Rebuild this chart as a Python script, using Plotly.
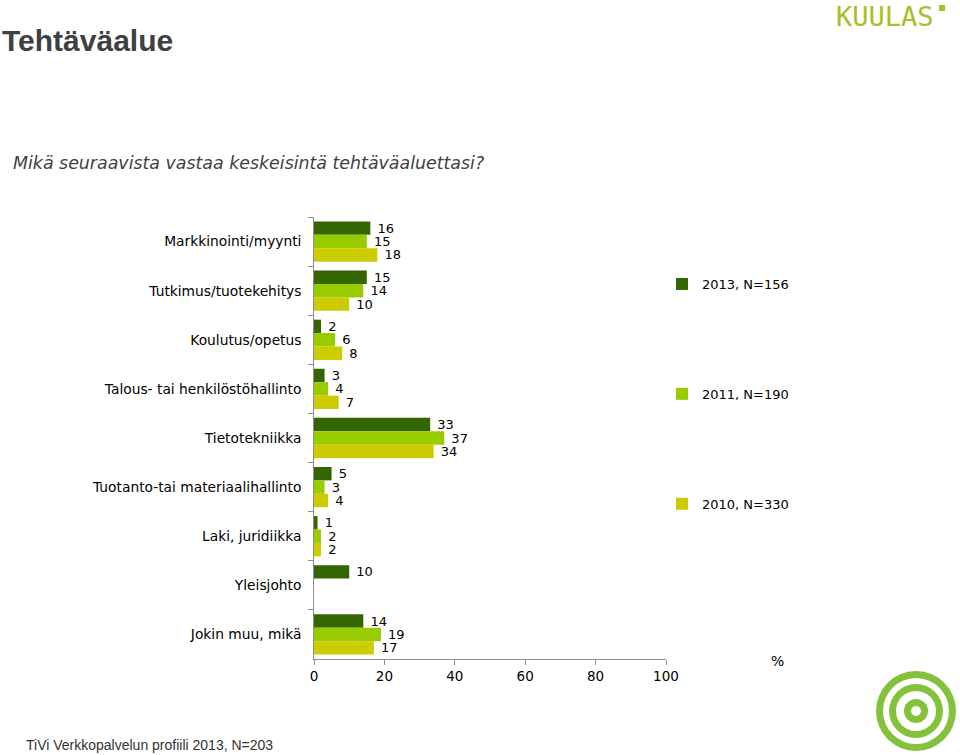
import plotly.graph_objects as go

categories = [
    "Markkinointi/myynti",
    "Tutkimus/tuotekehitys",
    "Koulutus/opetus",
    "Talous- tai henkilöstöhallinto",
    "Tietotekniikka",
    "Tuotanto-tai materiaalihallinto",
    "Laki, juridiikka",
    "Yleisjohto",
    "Jokin muu, mikä",
]
values_2013 = [16, 15, 2, 3, 33, 5, 1, 10, 14]
values_2011 = [15, 14, 6, 4, 37, 3, 2, None, 19]
values_2010 = [18, 10, 8, 7, 34, 4, 2, None, 17]
series_names = ["2013, N=156", "2011, N=190", "2010, N=330"]
series_colors = ["#336600", "#99cc00", "#cccc00"]
x_ticks = [0, 20, 40, 60, 80, 100]

W, H = 960, 755
L, R, T, B = 314, 666, 217, 659

def px(x):
    return (x - L) / (R - L)

def py(y):
    return (B - y) / (B - T)

FONT = "Verdana, DejaVu Sans, sans-serif"

fig = go.Figure()
for i, (name, vals, col) in enumerate(zip(series_names, [values_2013, values_2011, values_2010], series_colors)):
    fig.add_trace(go.Bar(
        y=categories, x=vals, orientation="h", name=name,
        marker=dict(color=col, line=dict(width=0)),
        text=[("" if v is None else " " + str(v)) for v in vals],
        textposition="outside", cliponaxis=False, constraintext="none",
        textfont=dict(family=FONT, size=13, color="#000000"),
        legendgroup=f"g{i}", hoverinfo="x+y+name",
    ))

fig.update_layout(
    width=W, height=H, autosize=False,
    margin=dict(l=L, r=W - R, t=T, b=H - B, pad=0),
    paper_bgcolor="white", plot_bgcolor="white",
    barmode="group", bargap=0.18, bargroupgap=0,
    font=dict(family=FONT, size=13, color="#000000"),
    showlegend=True,
    legend=dict(
        x=px(662), y=py(269), xanchor="left", yanchor="top",
        font=dict(family=FONT, size=13, color="#000000"),
        tracegroupgap=90, traceorder="grouped", bgcolor="rgba(0,0,0,0)",
        itemwidth=30,
    ),
    xaxis=dict(
        range=[0, 100], tickvals=x_ticks, ticktext=[str(t) for t in x_ticks],
        showgrid=False, zeroline=False, showline=True, linecolor="#8c8c9c", linewidth=1,
        ticks="outside", ticklen=5, tickcolor="#8c8c9c",
        tickfont=dict(family=FONT, size=13.5, color="#000000"),
    ),
    yaxis=dict(
        type="category", autorange="reversed", categoryorder="array", categoryarray=categories,
        showgrid=False, zeroline=False, showline=True, linecolor="#8c8c9c", linewidth=1,
        ticks="outside", ticklen=5, tickcolor="#8c8c9c", tickson="boundaries",
        tickfont=dict(family=FONT, size=13.8, color="#000000"), ticksuffix="  ",
    ),
)

ann = []
ann.append(dict(text="<b>Tehtäväalue</b>", x=px(0), y=py(40), xref="paper", yref="paper",
                xanchor="left", yanchor="middle", showarrow=False,
                font=dict(family="Liberation Sans, Arial, sans-serif", size=30, color="#404040")))
ann.append(dict(text="<i>Mikä seuraavista vastaa keskeisintä tehtäväaluettasi?</i>", x=px(11), y=py(163),
                xref="paper", yref="paper", xanchor="left", yanchor="middle", showarrow=False,
                font=dict(family=FONT, size=17.4, color="#404040")))
ann.append(dict(text="TiVi Verkkopalvelun profiili 2013, N=203", x=px(24), y=py(745),
                xref="paper", yref="paper", xanchor="left", yanchor="middle", showarrow=False,
                font=dict(family="Liberation Sans, Arial, sans-serif", size=14, color="#333333")))
ann.append(dict(text="%", x=px(777), y=py(661), xref="paper", yref="paper",
                xanchor="center", yanchor="middle", showarrow=False,
                font=dict(family=FONT, size=14, color="#000000")))
ann.append(dict(text="KUULAS", x=px(834), y=py(16), xref="paper", yref="paper",
                xanchor="left", yanchor="middle", showarrow=False,
                font=dict(family="DejaVu Sans Mono, monospace", size=27, color="#a3c12a")))
fig.update_layout(annotations=ann)

shapes = []
shapes.append(dict(type="rect", xref="paper", yref="paper", x0=px(939), x1=px(945), y0=py(11), y1=py(5),
                   fillcolor="#a3c12a", line=dict(width=0)))
cx, cy = 916, 711
for r, c in [(40, "#84c23b"), (33, "white"), (27, "#84c23b"), (20, "white"), (12, "#84c23b"), (5, "white")]:
    shapes.append(dict(type="circle", xref="paper", yref="paper",
                       x0=px(cx - r), x1=px(cx + r), y0=py(cy + r), y1=py(cy - r),
                       fillcolor=c, line=dict(width=0), layer="above"))
fig.update_layout(shapes=shapes)

fig.write_html("out.html", config={"displayModeBar": False},
               post_script="document.body.style.margin='0';document.body.style.overflow='hidden';")
